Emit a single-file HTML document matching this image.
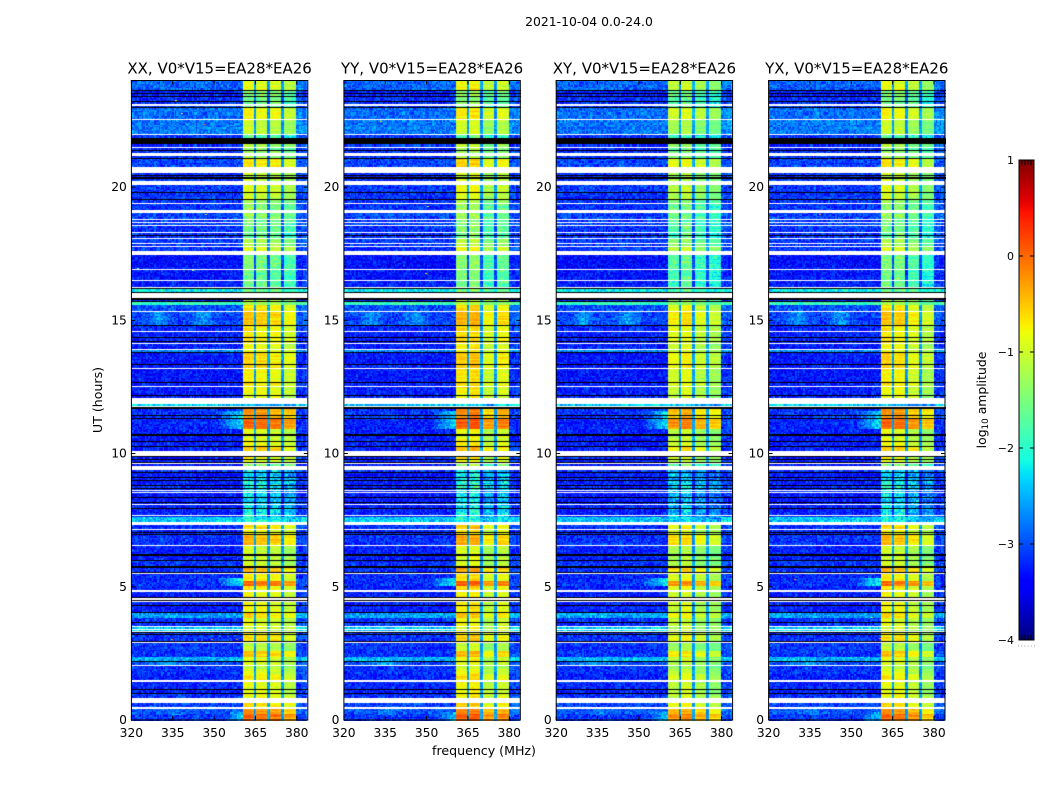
<!DOCTYPE html>
<html>
<head>
<meta charset="utf-8">
<title>2021-10-04 0.0-24.0</title>
<style>
html,body{margin:0;padding:0;background:#fff;width:1050px;height:800px;overflow:hidden}
#figure{position:relative;width:1050px;height:800px;background:#fff}
canvas{position:absolute;display:block}
svg{position:absolute;left:0;top:0}
text{font-family:"DejaVu Sans","Liberation Sans",sans-serif;fill:#000}
</style>
</head>
<body>
<div id="figure"></div>
<script>
// ---------- chart data ----------
const figureTitle = '2021-10-04 0.0-24.0';
const panelTitles = ['XX, V0*V15=EA28*EA26','YY, V0*V15=EA28*EA26','XY, V0*V15=EA28*EA26','YX, V0*V15=EA28*EA26'];
const panelKeys = ['xx','yy','xy','yx'];
const xTicks = [320,335,350,365,380];
const yTicks = [0,5,10,15,20];
const colorbarTicks = [1,0,-1,-2,-3,-4];
const FLAGGED = null;
const ZERO = -9;
// Lower edge (UT hours) of each time segment, reading downward from 24 h
const segmentEndUT = [23.68,23.63,23.55,23.51,23.44,23.40,23.25,23.21,23.14,23.08,23.03,22.97,22.58,22.52,22.01,21.98,21.86,21.62,21.53,21.47,21.41,21.38,21.28,21.19,21.11,21.08,20.79,20.55,20.46,20.42,20.38,20.34,20.23,20.10,19.82,19.78,19.58,19.54,19.43,19.39,19.16,19.05,18.83,18.77,18.71,18.68,18.60,18.54,18.34,18.30,18.23,18.17,18.11,18.06,17.91,17.87,17.81,17.78,17.61,17.48,16.93,16.89,16.52,16.48,16.26,16.22,16.18,16.09,16.03,15.84,15.79,15.75,15.71,15.60,15.38,15.34,14.85,14.81,14.63,14.59,14.40,14.36,14.25,14.21,14.18,14.12,13.95,13.91,13.82,13.78,13.37,13.33,13.24,13.20,12.69,12.66,12.54,12.51,12.23,12.17,12.11,11.87,11.81,11.76,11.68,11.46,11.42,11.36,11.33,10.95,10.74,10.67,10.50,10.46,10.29,10.26,10.13,9.94,9.90,9.83,9.79,9.71,9.68,9.62,9.56,9.39,9.32,9.28,9.15,9.11,9.02,8.98,8.83,8.79,8.74,8.70,8.64,8.61,8.57,8.53,8.40,8.36,8.21,8.18,8.14,8.10,7.99,7.95,7.73,7.69,7.65,7.46,7.35,7.20,7.14,7.09,7.05,7.01,6.96,6.60,6.54,6.23,6.19,6.04,6.00,5.81,5.78,5.74,5.59,5.55,5.51,5.25,5.06,5.03,4.89,4.84,4.63,4.58,4.54,4.50,4.44,4.35,4.31,4.09,4.03,3.86,3.69,3.66,3.54,3.51,3.45,3.41,3.38,3.34,3.28,3.23,3.19,3.00,2.94,2.91,2.59,2.38,2.25,2.21,2.08,2.04,1.95,1.76,1.73,1.52,1.46,1.20,1.16,1.05,1.01,0.83,0.64,0.49,0.45,0.26,0.15,0];
// log10 amplitude of the off-band background in each segment
const F = FLAGGED, Z = ZERO;
const segmentBackground = [-2.9,Z,-3.25,Z,-3.25,Z,-3.15,Z,-3.15,F,-3.15,Z,-2.85,F,-2.8,F,-3.15,Z,-3.15,F,-3.25,Z,-3.15,F,-3.15,Z,-3.05,F,-3.15,Z,-3.25,Z,-3.15,F,-3.1,Z,-3.15,Z,-3.15,F,-3.15,F,-3.05,F,-3.15,F,-3.05,F,-3.15,F,-3.15,Z,-3.15,F,-3.1,F,-3.15,F,-3.15,F,-3.35,F,-3.3,F,-3.25,F,Z,-2.2,Z,F,Z,-3.25,Z,-1.9,-3.0,F,-3.05,Z,-3.2,F,-3.25,Z,-3.25,Z,-3.25,F,-3.25,F,-2.7,Z,-3.3,Z,-3.25,F,-3.3,Z,-3.25,F,-3.25,Z,-3.25,F,-2.4,F,Z,-3.15,Z,-3.15,Z,-3.25,-3.25,Z,-3.3,Z,-3.25,Z,-3.25,F,Z,-3.25,Z,-3.25,Z,F,-3.35,F,-3.15,Z,-3.3,Z,-3.25,Z,-3.25,Z,-3.25,Z,-3.25,F,-3.25,F,-3.3,Z,-3.3,Z,-3.25,F,-3.25,Z,-3.25,F,-3.25,-2.4,F,-3.15,F,-3.25,Z,-3.25,Z,-3.15,F,-3.25,Z,-3.25,Z,-3.15,-2.0,Z,-3.15,Z,F,-3.2,-3.15,Z,-3.25,F,-3.25,Z,F,Z,F,-3.25,Z,-3.25,Z,-2.6,-3.15,Z,-3.15,F,-2.4,F,-2.4,F,Z,-3.15,Z,-3.15,Z,F,-3.15,-3.15,-2.5,Z,-3.05,F,-3.15,-3.15,F,-3.25,F,-3.2,Z,-3.25,Z,-3.15,F,-3.05,F,-2.95,-3.1,-3.15];
// log10 amplitude of the 360-380 MHz band in each segment
const segmentBand = [-0.95,Z,-1.5,Z,-1.5,Z,-1.6,Z,-1.6,F,-1.6,Z,-0.85,F,-1.15,F,-1.8,Z,-1.3,F,-1.5,Z,-1.4,F,-1.4,Z,-0.75,F,-1.1,Z,-1.2,Z,-1.1,F,-1.0,Z,-1.1,Z,-1.4,F,-1.5,F,-1.5,F,-1.6,F,-1.6,F,-1.6,F,-1.7,Z,-1.7,F,-1.3,F,-1.3,F,-1.0,F,-1.6,F,-1.7,F,-1.7,F,Z,-1.6,Z,F,Z,-1.2,Z,-1.3,-0.75,F,-0.6,Z,-0.8,F,-0.8,Z,-0.8,Z,-0.8,F,-0.9,F,-0.9,Z,-0.7,Z,-0.7,F,-0.85,Z,-0.8,F,-0.9,Z,-0.9,F,-2.4,F,Z,-0.35,Z,-0.4,Z,-0.1,-1.0,Z,-1.0,Z,-0.9,Z,-0.6,F,Z,-0.9,Z,-1.0,Z,F,-1.5,F,-2.4,Z,-2.4,Z,-2.4,Z,-2.2,Z,-2.2,Z,-2.3,F,-2.3,F,-2.4,Z,-2.4,Z,-2.4,F,-2.4,Z,-2.3,F,-2.3,-2.2,F,-0.7,F,-0.9,Z,-0.9,Z,-0.55,F,-1.1,Z,-1.1,Z,-1.1,-1.0,Z,-0.5,Z,F,-0.8,-0.1,Z,-0.8,F,-0.9,Z,F,Z,F,-0.9,Z,-0.9,Z,-0.7,-1.0,Z,-1.0,F,-1.0,F,-1.0,F,Z,-0.9,Z,-0.7,Z,F,-1.2,-0.6,-1.0,Z,-1.0,F,-1.2,-1.0,F,-0.8,F,-0.95,Z,-0.95,Z,-0.9,F,-0.7,F,-0.35,-0.05,-0.15];
// Per-polarisation offset of each of the four sub-bands
const subbandOffsetXX = [0.1,0.05,0,-0.2];
const subbandOffsetYY = [0.15,0.2,-0.2,-0.05];
const subbandOffsetXY = [-0.15,-0.05,-0.3,-0.45];
const subbandOffsetYX = [0.1,0.05,-0.15,-0.4];
const subbandOffsets = [subbandOffsetXX,subbandOffsetYY,subbandOffsetXY,subbandOffsetYX];
// Diffuse interference patches (peak level at the middle of the frequency span)
const patchStartMHz = [322,336,352,352,352,326,320,320];
const patchEndMHz   = [338,356,368,368,368,346,352,348];
const patchStartUT  = [14.85,14.85,10.95,5.06,0,0.2,3.86,2.1];
const patchEndUT    = [15.34,15.34,11.6,5.35,0.3,0.45,3.98,2.3];
const patchLevel    = [-2.6,-2.6,-2.3,-2.2,-2.45,-2.7,-2.4,-2.5];
// Isolated bright pixels
const hotPanel = [0,0,0,0,0,0,0,1,1,1,2,3,3,3,3,0,0];
const hotMHz   = [336,346,358,347,334.5,349,342,333,350,349.5,351,338,329,357,360,338,322];
const hotUT    = [23.28,22.4,3.05,19.0,3.05,3.05,16.9,22.5,19.3,16.8,22.0,19.0,5.3,3.9,3.1,22.8,17.0];
const hotLevel = [-0.8,-0.2,-0.1,-1.0,-0.2,-0.2,-1.2,-0.7,-1.0,-0.8,-0.3,-0.4,-0.2,-1.0,-0.2,-1.0,-1.5];
// Measured cell texture (log10 deviations)
const speckle = [0.12,-0.28,0.05,0.31,-0.12,-0.36,0.22,-0.05,0.4,-0.2,0.08,-0.31,0.18,0.02,-0.42,0.27,-0.09,0.14,-0.25,0.35,-0.15,0.06,-0.38,0.24,-0.02,0.46,-0.18,0.1,-0.3,0.16,-0.07,0.29,-0.22,0.03,-0.4,0.2,0.37,-0.11,-0.27,0.09,0.26,-0.34,0.01,0.19,-0.16,0.33,-0.24,-0.04,0.13,-0.33,0.43,-0.1,0.07,-0.21,0.23,-0.37,0.11,-0.14,0.3,-0.06,0.17];
const subbandShape = [-0.1,-0.02,0,0.03,0.03,0.03,0.02,0,-0.02,-0.08];
const rowStripe = [0.05,-0.1,0.12,0.02,-0.14,0.08,-0.04,0.15,-0.08,0,0.1,-0.16,0.04];

// ---------- geometry & axis functions ----------
const panelLeft = [131.4,343.9,556.2,768.6];
const panelWidth = 176.4;
const panelTop = 80.5;
const panelHeight = 639.5;
const xMin = 320, xMax = 384, yMin = 0, yMax = 24;
const xLocal = mhz => (mhz - xMin) / (xMax - xMin) * panelWidth;
const yLocal = ut => (yMax - ut) / (yMax - yMin) * panelHeight;
const cbarLeft = 1019, cbarRight = 1034, cbarTop = 160, cbarBottom = 640, cMin = -4, cMax = 1;
const cbarY = v => cbarBottom - (v - cMin) / (cMax - cMin) * (cbarBottom - cbarTop);

function ramp(t, stops){
  for(let i = 1; i < stops.length; i++){
    if(t <= stops[i][0]){
      const a = stops[i-1], b = stops[i];
      return a[1] + (b[1]-a[1]) * (t-a[0]) / (b[0]-a[0]);
    }
  }
  return stops[stops.length-1][1];
}
function jet(t){
  t = Math.max(0, Math.min(1, t));
  const r = ramp(t, [[0,0],[0.35,0],[0.66,1],[0.89,1],[1,0.5]]);
  const g = ramp(t, [[0,0],[0.125,0],[0.375,1],[0.64,1],[0.91,0],[1,0]]);
  const b = ramp(t, [[0,0.5],[0.11,1],[0.34,1],[0.65,0],[1,0]]);
  return 'rgb(' + Math.round(r*255) + ',' + Math.round(g*255) + ',' + Math.round(b*255) + ')';
}
const lut = [];
for(let i = 0; i < 256; i++){ lut.push(jet(i/255)); }
const colorOf = v => lut[Math.max(0, Math.min(255, Math.round((v - cMin) / (cMax - cMin) * 255)))];

// ---------- heatmaps ----------
const figure = document.getElementById('figure');
const channelWidth = 0.5, timeBin = 0.05;

function cellLevel(p, s, mhz, ut, c, r){
  const bg = segmentBackground[s], band = segmentBand[s];
  const g = speckle[(c*17 + r*29 + (c*r)%13 + p*7) % speckle.length];
  if(mhz >= 360.4 && mhz < 380){
    const sub = Math.min(3, Math.floor((mhz-360)/5));
    const pos = (mhz-(360+5*sub))/5;
    const inGap = (sub > 0 && pos < 0.06) || (sub < 3 && pos >= 0.94);
    if(inGap){
      return Math.max(bg, Math.min(band-1.4, -2.6)) + g*0.5;
    }
    const level = band + subbandOffsets[p][sub];
    const shape = subbandShape[Math.min(subbandShape.length-1, Math.floor(pos*subbandShape.length))];
    const grainScale = band < -1.9 ? 1.0 : (band < -1.4 ? 0.7 : 0.2);
    const stripe = rowStripe[(r + sub) % rowStripe.length];
    return level + shape + stripe*0.8 + g*grainScale;
  }
  let v = bg;
  if(mhz >= 380){ v += 0.12; }
  for(let i = 0; i < patchLevel.length; i++){
    if(mhz >= patchStartMHz[i] && mhz < patchEndMHz[i] && ut >= patchStartUT[i] && ut < patchEndUT[i]){
      const span = patchEndMHz[i] - patchStartMHz[i];
      const u = 2 * Math.min(mhz - patchStartMHz[i], patchEndMHz[i] - mhz) / span;
      v = Math.max(v, patchLevel[i] - (1-u)*0.8);
    }
  }
  return v + g*0.85;
}

function drawPanel(ctx, p){
  let upper = yMax;
  for(let s = 0; s < segmentEndUT.length; s++){
    const lower = segmentEndUT[s];
    const bg = segmentBackground[s];
    const y1 = Math.round(yLocal(upper));
    const y2 = Math.max(y1+1, Math.round(yLocal(lower)));
    if(bg === ZERO){
      ctx.fillStyle = '#000';
      ctx.fillRect(0, y1, panelWidth+1, y2-y1);
    } else if(bg !== FLAGGED){
      const nRows = Math.max(1, Math.round((upper-lower)/timeBin));
      for(let i = 0; i < nRows; i++){
        const ut = upper - (i+0.5)*(upper-lower)/nRows;
        const r = Math.floor(ut/timeBin);
        const ya = Math.round(yLocal(upper - i*(upper-lower)/nRows));
        const yb = Math.max(ya+1, Math.round(yLocal(upper - (i+1)*(upper-lower)/nRows)));
        for(let c = 0; c*channelWidth < xMax-xMin; c++){
          const mhz = xMin + (c+0.5)*channelWidth;
          const xa = Math.round(xLocal(xMin + c*channelWidth));
          const xb = Math.round(xLocal(xMin + (c+1)*channelWidth));
          ctx.fillStyle = colorOf(cellLevel(p, s, mhz, ut, c, r));
          ctx.fillRect(xa, ya, xb-xa, yb-ya);
        }
      }
    }
    upper = lower;
  }
  for(let h = 0; h < hotLevel.length; h++){
    if(hotPanel[h] === p){
      ctx.fillStyle = colorOf(hotLevel[h]);
      ctx.fillRect(Math.round(xLocal(hotMHz[h])), Math.round(yLocal(hotUT[h])), 2, 1);
    }
  }
}

panelKeys.forEach(function(key, p){
  const cv = document.createElement('canvas');
  
  
  cv.width = Math.ceil(panelWidth);
  cv.height = Math.ceil(panelHeight);
  cv.style.left = panelLeft[p] + 'px';
  cv.style.top = panelTop + 'px';
  figure.appendChild(cv);
  drawPanel(cv.getContext('2d'), p);
});

// ---------- SVG overlay ----------
const NS = 'http://www.w3.org/2000/svg';
const svg = document.createElementNS(NS, 'svg');


svg.setAttribute('width', '1050');
svg.setAttribute('height', '800');
figure.appendChild(svg);

function make(tag, attrs, text){
  const e = document.createElementNS(NS, tag);
  for(const k in attrs){ e.setAttribute(k, attrs[k]); }
  if(text !== undefined){ e.textContent = text; }
  svg.appendChild(e);
  return e;
}
function tickLine(x1, y1, x2, y2){
  return make('line', {x1:x1, y1:y1, x2:x2, y2:y2, stroke:'#000', 'stroke-width':1});
}
const tickLen = 4;

const suptitle = make('text', {x:589, y:26, 'text-anchor':'middle', 'font-size':12.4}, figureTitle);



panelKeys.forEach(function(key, p){
  const L = panelLeft[p], T = panelTop, W = panelWidth, H = panelHeight;
  const frame = make('rect', {x:L, y:T, width:W, height:H, fill:'none', stroke:'#000', 'stroke-width':1});
  
  

  const title = make('text', {x:L+W/2, y:T-7, 'text-anchor':'middle', 'font-size':15}, panelTitles[p]);
  
  

  xTicks.forEach(function(v){
    const x = L + xLocal(v);
    const b = tickLine(x, T+H, x, T+H-tickLen);
    
    
    const t = tickLine(x, T, x, T+tickLen);
    
    
    const lab = make('text', {x:x, y:T+H+17, 'text-anchor':'middle', 'font-size':12.3}, String(v));
    
    
  });
  yTicks.forEach(function(v){
    const y = T + yLocal(v);
    const a = tickLine(L, y, L+tickLen, y);
    
    
    const b = tickLine(L+W, y, L+W-tickLen, y);
    
    
    const lab = make('text', {x:L-4.5, y:y+4, 'text-anchor':'end', 'font-size':12.3}, String(v));
    
    
  });
});

const yTitle = make('text', {x:102, y:400, 'text-anchor':'middle', 'font-size':12.6, transform:'rotate(-90 102 400)'}, 'UT (hours)');



const xTitle = make('text', {x:484, y:755, 'text-anchor':'middle', 'font-size':12.6}, 'frequency (MHz)');



// ---------- colorbar ----------
const defs = make('defs', {});
const grad = document.createElementNS(NS, 'linearGradient');
grad.setAttribute('id', 'jet-gradient');
grad.setAttribute('x1', '0'); grad.setAttribute('y1', '1');
grad.setAttribute('x2', '0'); grad.setAttribute('y2', '0');
for(let i = 0; i <= 64; i++){
  const stop = document.createElementNS(NS, 'stop');
  stop.setAttribute('offset', i/64);
  stop.setAttribute('stop-color', jet(i/64));
  grad.appendChild(stop);
}
defs.appendChild(grad);

const cbar = make('rect', {x:cbarLeft, y:cbarTop, width:cbarRight-cbarLeft, height:cbarBottom-cbarTop, fill:'url(#jet-gradient)', stroke:'#000', 'stroke-width':1});



colorbarTicks.forEach(function(v){
  const y = cbarY(v);
  const a = tickLine(cbarLeft, y, cbarLeft+4, y);
  
  
  const b = tickLine(cbarRight, y, cbarRight-4, y);
  
  
  const lab = make('text', {x:1014, y:y+4, 'text-anchor':'end', 'font-size':11}, String(v).replace('-', '\u2212'));
  
  
});
[1,2,3,4].forEach(function(i){
  const x = cbarLeft + i*3;
  const t = tickLine(x, cbarTop, x, cbarTop+5);
  
  
  const b = tickLine(x, cbarBottom, x, cbarBottom-5);
  
  
});
[0,1,2,3,4,5].forEach(function(i){
  const d = make('rect', {x:1018 + i*3.2, y:645.5, width:1, height:1, fill:'#999'});
  
  
});

const cbarTitle = make('text', {x:986, y:400, 'text-anchor':'middle', 'font-size':12.4, transform:'rotate(-90 986 400)'});


const t1 = document.createElementNS(NS, 'tspan');
t1.textContent = 'log';
cbarTitle.appendChild(t1);
const t2 = document.createElementNS(NS, 'tspan');
t2.setAttribute('font-size', '8.8');
t2.setAttribute('dy', '2');
t2.textContent = '10';
cbarTitle.appendChild(t2);
const t3 = document.createElementNS(NS, 'tspan');
t3.setAttribute('dy', '-2');
t3.textContent = ' amplitude';
cbarTitle.appendChild(t3);
</script>
</body>
</html>
